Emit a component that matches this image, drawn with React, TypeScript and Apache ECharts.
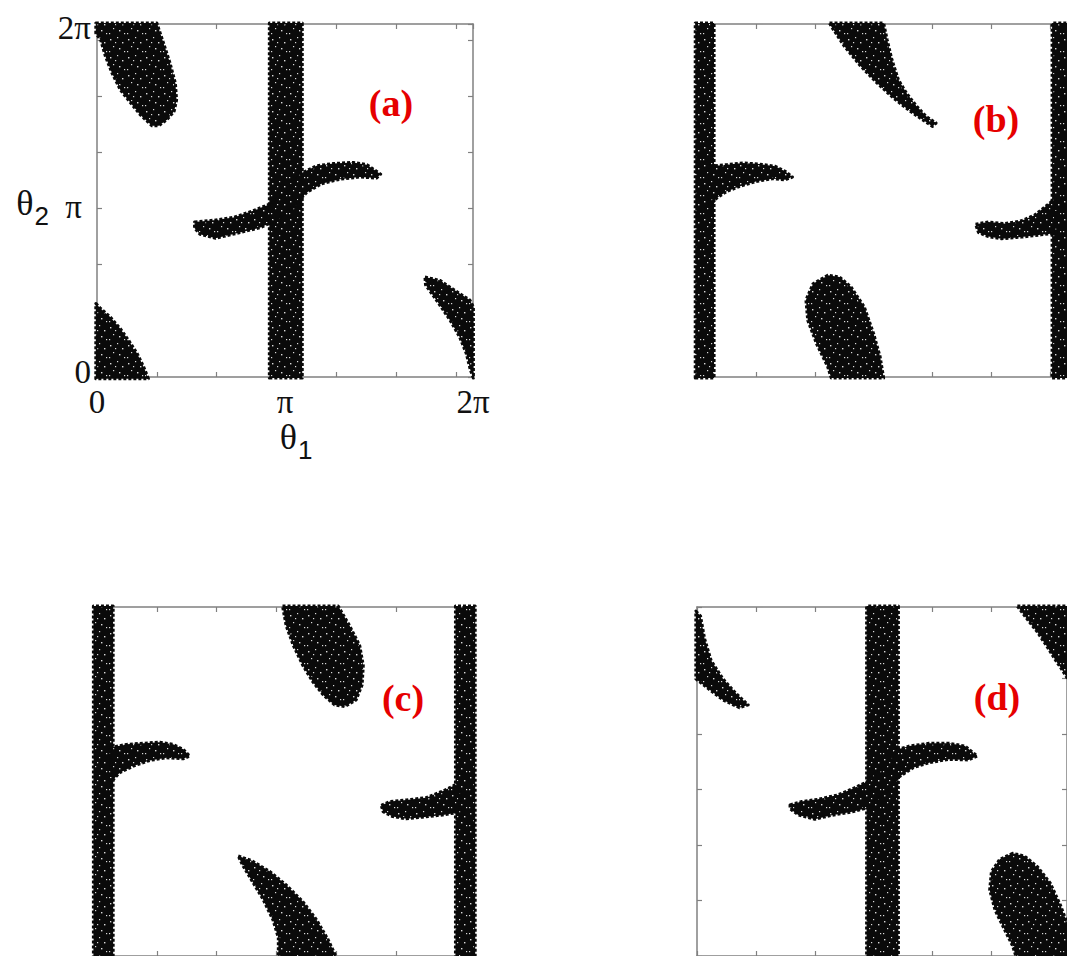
import React, { useEffect, useRef } from 'react';
import * as echarts from 'echarts';

const TWO_PI = 2 * Math.PI;

// tick labels shown on panel (a)
const labelValues = [0, Math.PI, TWO_PI];
const labelTexts = ['0', 'π', '2π'];
const panelTitles = ['(a)', '(b)', '(c)', '(d)'];

// ---- Panel (a): point-cloud regions, [theta1, theta2] outlines ----
const aBand = [[2.88, -0.02], [3.43, -0.02], [3.43, 6.30], [2.88, 6.30]];
const aTopLeftBlob = [[-0.02, 6.30], [1.00, 6.30], [1.11, 5.95], [1.22, 5.59], [1.31, 5.23], [1.33, 4.93], [1.29, 4.73], [1.17, 4.58], [1.03, 4.47], [0.92, 4.47], [0.72, 4.67], [0.56, 4.88], [0.39, 5.11], [0.25, 5.41], [0.14, 5.71], [0.06, 6.00], [-0.02, 6.12]];
const aBottomLeftBlob = [[-0.02, 1.31], [0.06, 1.22], [0.22, 1.07], [0.39, 0.86], [0.53, 0.65], [0.67, 0.42], [0.78, 0.18], [0.86, -0.03], [-0.02, -0.03]];
const aArm = [[1.63, 2.76], [1.95, 2.79], [2.28, 2.84], [2.61, 2.96], [2.89, 3.08], [3.11, 3.24], [3.42, 3.63], [3.67, 3.76], [3.95, 3.80], [4.28, 3.82], [4.51, 3.78], [4.74, 3.61], [4.67, 3.54], [4.39, 3.56], [4.06, 3.52], [3.75, 3.44], [3.50, 3.28], [3.28, 3.03], [3.00, 2.79], [2.73, 2.66], [2.39, 2.57], [1.98, 2.47], [1.72, 2.54], [1.63, 2.65]];
const aLowerRightArc = [[5.48, 1.78], [5.73, 1.72], [6.01, 1.52], [6.23, 1.37], [6.29, 1.25], [6.29, -0.02], [6.24, 0.12], [6.17, 0.42], [6.06, 0.71], [5.90, 1.01], [5.67, 1.37], [5.49, 1.64]];

// ---- Panel (b) ----
const bLeftBand = [[-0.03, -0.02], [0.29, -0.02], [0.29, 6.30], [-0.03, 6.30]];
const bRightBand = [[6.03, -0.02], [6.32, -0.02], [6.32, 6.30], [6.03, 6.30]];
const bTopBlob = [[2.25, 6.30], [3.17, 6.30], [3.23, 6.00], [3.31, 5.65], [3.42, 5.29], [3.56, 5.05], [3.73, 4.82], [3.89, 4.64], [4.06, 4.52], [4.00, 4.46], [3.87, 4.55], [3.62, 4.73], [3.34, 4.96], [3.06, 5.23], [2.78, 5.53], [2.50, 5.89], [2.28, 6.24]];
const bBottomBlob = [[2.22, 1.81], [1.97, 1.66], [1.85, 1.37], [1.88, 1.01], [2.03, 0.59], [2.22, 0.18], [2.28, -0.02], [3.17, -0.02], [3.11, 0.36], [3.00, 0.77], [2.84, 1.25], [2.61, 1.61], [2.42, 1.78]];
const bLeftArm = [[0.22, 3.75], [0.50, 3.78], [0.78, 3.81], [1.06, 3.79], [1.33, 3.75], [1.50, 3.66], [1.62, 3.56], [1.50, 3.51], [1.28, 3.53], [1.00, 3.48], [0.72, 3.39], [0.50, 3.30], [0.33, 3.18], [0.22, 3.06]];
const bRightArm = [[4.73, 2.72], [4.95, 2.76], [5.23, 2.73], [5.51, 2.78], [5.73, 2.88], [5.90, 3.02], [6.09, 3.18], [6.09, 2.56], [5.84, 2.53], [5.51, 2.49], [5.17, 2.46], [4.95, 2.50], [4.78, 2.57]];

// ---- Panel (c) ----
const cLeftBand = [[-0.06, -0.02], [0.27, -0.02], [0.27, 6.30], [-0.06, 6.30]];
const cRightBand = [[5.99, -0.02], [6.32, -0.02], [6.32, 6.30], [5.99, 6.30]];
const cTopBlob = [[3.10, 6.30], [4.03, 6.30], [4.22, 5.95], [4.39, 5.59], [4.45, 5.23], [4.43, 4.88], [4.33, 4.61], [4.14, 4.49], [3.97, 4.52], [3.78, 4.70], [3.61, 4.93], [3.44, 5.23], [3.28, 5.59], [3.16, 5.95]];
const cLeftArm = [[0.22, 3.75], [0.49, 3.81], [0.77, 3.83], [1.05, 3.85], [1.27, 3.81], [1.44, 3.72], [1.55, 3.60], [1.44, 3.55], [1.16, 3.57], [0.88, 3.52], [0.61, 3.42], [0.38, 3.30], [0.24, 3.14]];
const cRightArm = [[4.75, 2.71], [4.89, 2.78], [5.17, 2.81], [5.50, 2.85], [5.78, 2.97], [5.95, 3.06], [6.06, 3.14], [6.06, 2.59], [5.78, 2.54], [5.44, 2.50], [5.17, 2.47], [4.94, 2.51], [4.78, 2.60]];
const cBottomBlob = [[2.36, 1.80], [2.58, 1.72], [2.89, 1.52], [3.16, 1.28], [3.44, 0.98], [3.67, 0.65], [3.86, 0.30], [4.00, -0.02], [3.03, -0.02], [3.03, 0.33], [2.94, 0.65], [2.78, 1.01], [2.58, 1.37], [2.43, 1.64]];

// ---- Panel (d) ----
const dBand = [[2.88, -0.02], [3.42, -0.02], [3.42, 6.30], [2.88, 6.30]];
const dTopLeftArc = [[-0.02, 6.21], [0.06, 6.12], [0.13, 5.71], [0.24, 5.32], [0.44, 4.99], [0.66, 4.73], [0.87, 4.52], [0.72, 4.47], [0.44, 4.61], [0.22, 4.79], [0.05, 4.93], [-0.02, 4.99]];
const dArm = [[1.58, 2.72], [1.77, 2.78], [2.05, 2.82], [2.39, 2.90], [2.66, 3.02], [2.89, 3.14], [3.16, 3.39], [3.41, 3.72], [3.61, 3.78], [3.94, 3.83], [4.28, 3.83], [4.55, 3.78], [4.76, 3.60], [4.61, 3.53], [4.28, 3.54], [3.94, 3.48], [3.67, 3.39], [3.41, 3.21], [3.22, 2.97], [2.94, 2.68], [2.66, 2.60], [2.27, 2.53], [2.00, 2.46], [1.72, 2.54], [1.58, 2.65]];
const dTopRightBlob = [[5.44, 6.30], [6.32, 6.30], [6.32, 4.95], [6.17, 5.20], [6.11, 5.29], [5.95, 5.56], [5.78, 5.83], [5.61, 6.06]];
const dBottomRightBlob = [[5.36, 1.85], [5.14, 1.74], [5.00, 1.52], [4.97, 1.19], [5.06, 0.83], [5.22, 0.48], [5.36, 0.18], [5.42, -0.02], [6.32, -0.02], [6.32, 0.50], [6.17, 0.92], [6.00, 1.31], [5.78, 1.61], [5.56, 1.80]];

const panelShapes = [
  [aBand, aTopLeftBlob, aBottomLeftBlob, aArm, aLowerRightArc],
  [bLeftBand, bRightBand, bTopBlob, bBottomBlob, bLeftArm, bRightArm],
  [cLeftBand, cRightBand, cTopBlob, cLeftArm, cRightArm, cBottomBlob],
  [dBand, dTopLeftArc, dArm, dTopRightBlob, dBottomRightBlob],
];

// layout (pixels)
const grids = [
  { left: 97, top: 24, width: 376, height: 353 },
  { left: 697, top: 24, width: 376, height: 353 },
  { left: 97, top: 607, width: 376, height: 353 },
  { left: 697, top: 607, width: 376, height: 353 },
];
const titlePos = [[391, 103], [996, 119], [403, 698], [997, 697]];

const SERIF = '"Liberation Serif", "Times New Roman", serif';
const SANS = '"Liberation Sans", Arial, sans-serif';
const FRAME = '#808080';
const INK = '#111111';
const DOT = '#0a0a0a';

// speckled fill tile (visual texture of the dense point cloud)
const tileSvg =
  "<svg xmlns='http://www.w3.org/2000/svg' width='18' height='18'>" +
  "<rect width='18' height='18' fill='#0a0a0a'/>" +
  "<g fill='#ffffff' fill-opacity='0.85'>" +
  "<rect x='2' y='3' width='1.4' height='1.4'/>" +
  "<rect x='9' y='1' width='1.2' height='1.2'/>" +
  "<rect x='14' y='6' width='1.4' height='1.4'/>" +
  "<rect x='5' y='10' width='1.2' height='1.2'/>" +
  "<rect x='11' y='12' width='1.4' height='1.4'/>" +
  "<rect x='16' y='15' width='1.2' height='1.2'/>" +
  "<rect x='1' y='15' width='1.2' height='1.2'/>" +
  "<rect x='7' y='6' width='1.2' height='1.2'/>" +
  "</g></svg>";
const tileUrl = 'data:image/svg+xml;charset=utf-8,' + encodeURIComponent(tileSvg);

function nearest(v: number) {
  let best = 0;
  for (let i = 0; i < labelValues.length; i++) {
    if (Math.abs(labelValues[i] - v) < Math.abs(labelValues[best] - v)) best = i;
  }
  return best;
}
const fmtX = (v: number) => labelTexts[nearest(v)];
const yKeys = ['zero', 'pi', 'top'];
const fmtY = (v: number) => {
  const k = nearest(v);
  return `{${yKeys[k]}|${labelTexts[k]}}`;
};

function buildOption() {
  const xAxis: any[] = [];
  const yAxis: any[] = [];
  const series: any[] = [];
  const common = (i: number) => ({
    gridIndex: i,
    type: 'value',
    min: 0,
    max: TWO_PI,
    interval: 1,
    splitLine: { show: false },
    axisLine: { show: true, onZero: false, lineStyle: { color: FRAME, width: 1.5 } },
    axisTick: { show: true, inside: true, length: 5, lineStyle: { color: FRAME, width: 1.2 } },
  });
  const nameRich = {
    t: { fontFamily: SERIF, fontSize: 36, color: INK, verticalAlign: 'top' },
    s: { fontFamily: SANS, fontSize: 26, color: INK, verticalAlign: 'top', padding: [18, 0, 0, 1] },
  };
  grids.forEach((g, i) => {
    const showLab = i === 0;
    xAxis.push({
      ...common(i),
      position: 'bottom',
      axisLabel: {
        show: showLab,
        customValues: labelValues,
        formatter: fmtX,
        fontFamily: SERIF,
        fontSize: 33,
        color: INK,
        margin: 8,
      },
      name: showLab ? '{t|θ}{s|1}' : '',
      nameLocation: 'middle',
      nameGap: 42,
      nameTextStyle: { padding: [0, 0, 0, 22], rich: nameRich },
    });
    xAxis.push({ ...common(i), position: 'top', axisLabel: { show: false } });
    yAxis.push({
      ...common(i),
      position: 'left',
      axisLabel: {
        show: showLab,
        customValues: labelValues,
        formatter: fmtY,
        fontFamily: SERIF,
        fontSize: 33,
        color: INK,
        margin: 6,
        rich: {
          zero: { fontFamily: SERIF, fontSize: 33, color: INK, padding: [0, 0, 10, 0] },
          pi: { fontFamily: SERIF, fontSize: 33, color: INK, padding: [12, 9, 0, 0] },
          top: { fontFamily: SERIF, fontSize: 33, color: INK, padding: [8, 0, 0, 0] },
        },
      },
      name: showLab ? '{t|θ}{s|2}' : '',
      nameLocation: 'middle',
      nameRotate: 0,
      nameGap: 48,
      nameTextStyle: { padding: [12, 0, 0, 0], rich: nameRich },
    });
    yAxis.push({ ...common(i), position: 'right', axisLabel: { show: false } });

    const shapes = panelShapes[i];
    series.push({
      type: 'custom',
      coordinateSystem: 'cartesian2d',
      xAxisIndex: 2 * i,
      yAxisIndex: 2 * i,
      clip: false,
      silent: true,
      z: 1,
      data: shapes.map((s, k) => [s[0][0], s[0][1], k]),
      encode: { x: 0, y: 1 },
      renderItem: (params: any, api: any) => {
        const shape = shapes[api.value(2)];
        const points = shape.map((p) => api.coord(p));
        return {
          type: 'polygon',
          shape: { points, smooth: 0 },
          style: {
            fill: { image: tileUrl, repeat: 'repeat', imageWidth: 18, imageHeight: 18 },
            stroke: DOT,
            lineWidth: 3,
            lineDash: [3, 2],
            lineJoin: 'round',
          },
        };
      },
    });
  });

  const graphic = panelTitles.map((t, i) => ({
    type: 'text',
    x: titlePos[i][0],
    y: titlePos[i][1],
    z: 100,
    style: {
      text: t,
      fill: '#e60000',
      font: `bold 38px ${SERIF}`,
      textAlign: 'center',
      textVerticalAlign: 'middle',
    },
  }));

  return {
    animation: false,
    backgroundColor: '#ffffff',
    grid: grids.map((g) => ({ ...g, containLabel: false })),
    xAxis,
    yAxis,
    series,
    graphic,
  };
}

export default function App() {
  const ref = useRef<HTMLDivElement>(null);
  useEffect(() => {
    const chart = echarts.init(ref.current!, null, { renderer: 'svg' });
    chart.setOption(buildOption() as any);
    return () => chart.dispose();
  }, []);
  return (
    <div
      ref={ref}
      style={{ position: 'fixed', left: 0, top: 0, width: 1067, height: 956, background: '#fff' }}
    />
  );
}
